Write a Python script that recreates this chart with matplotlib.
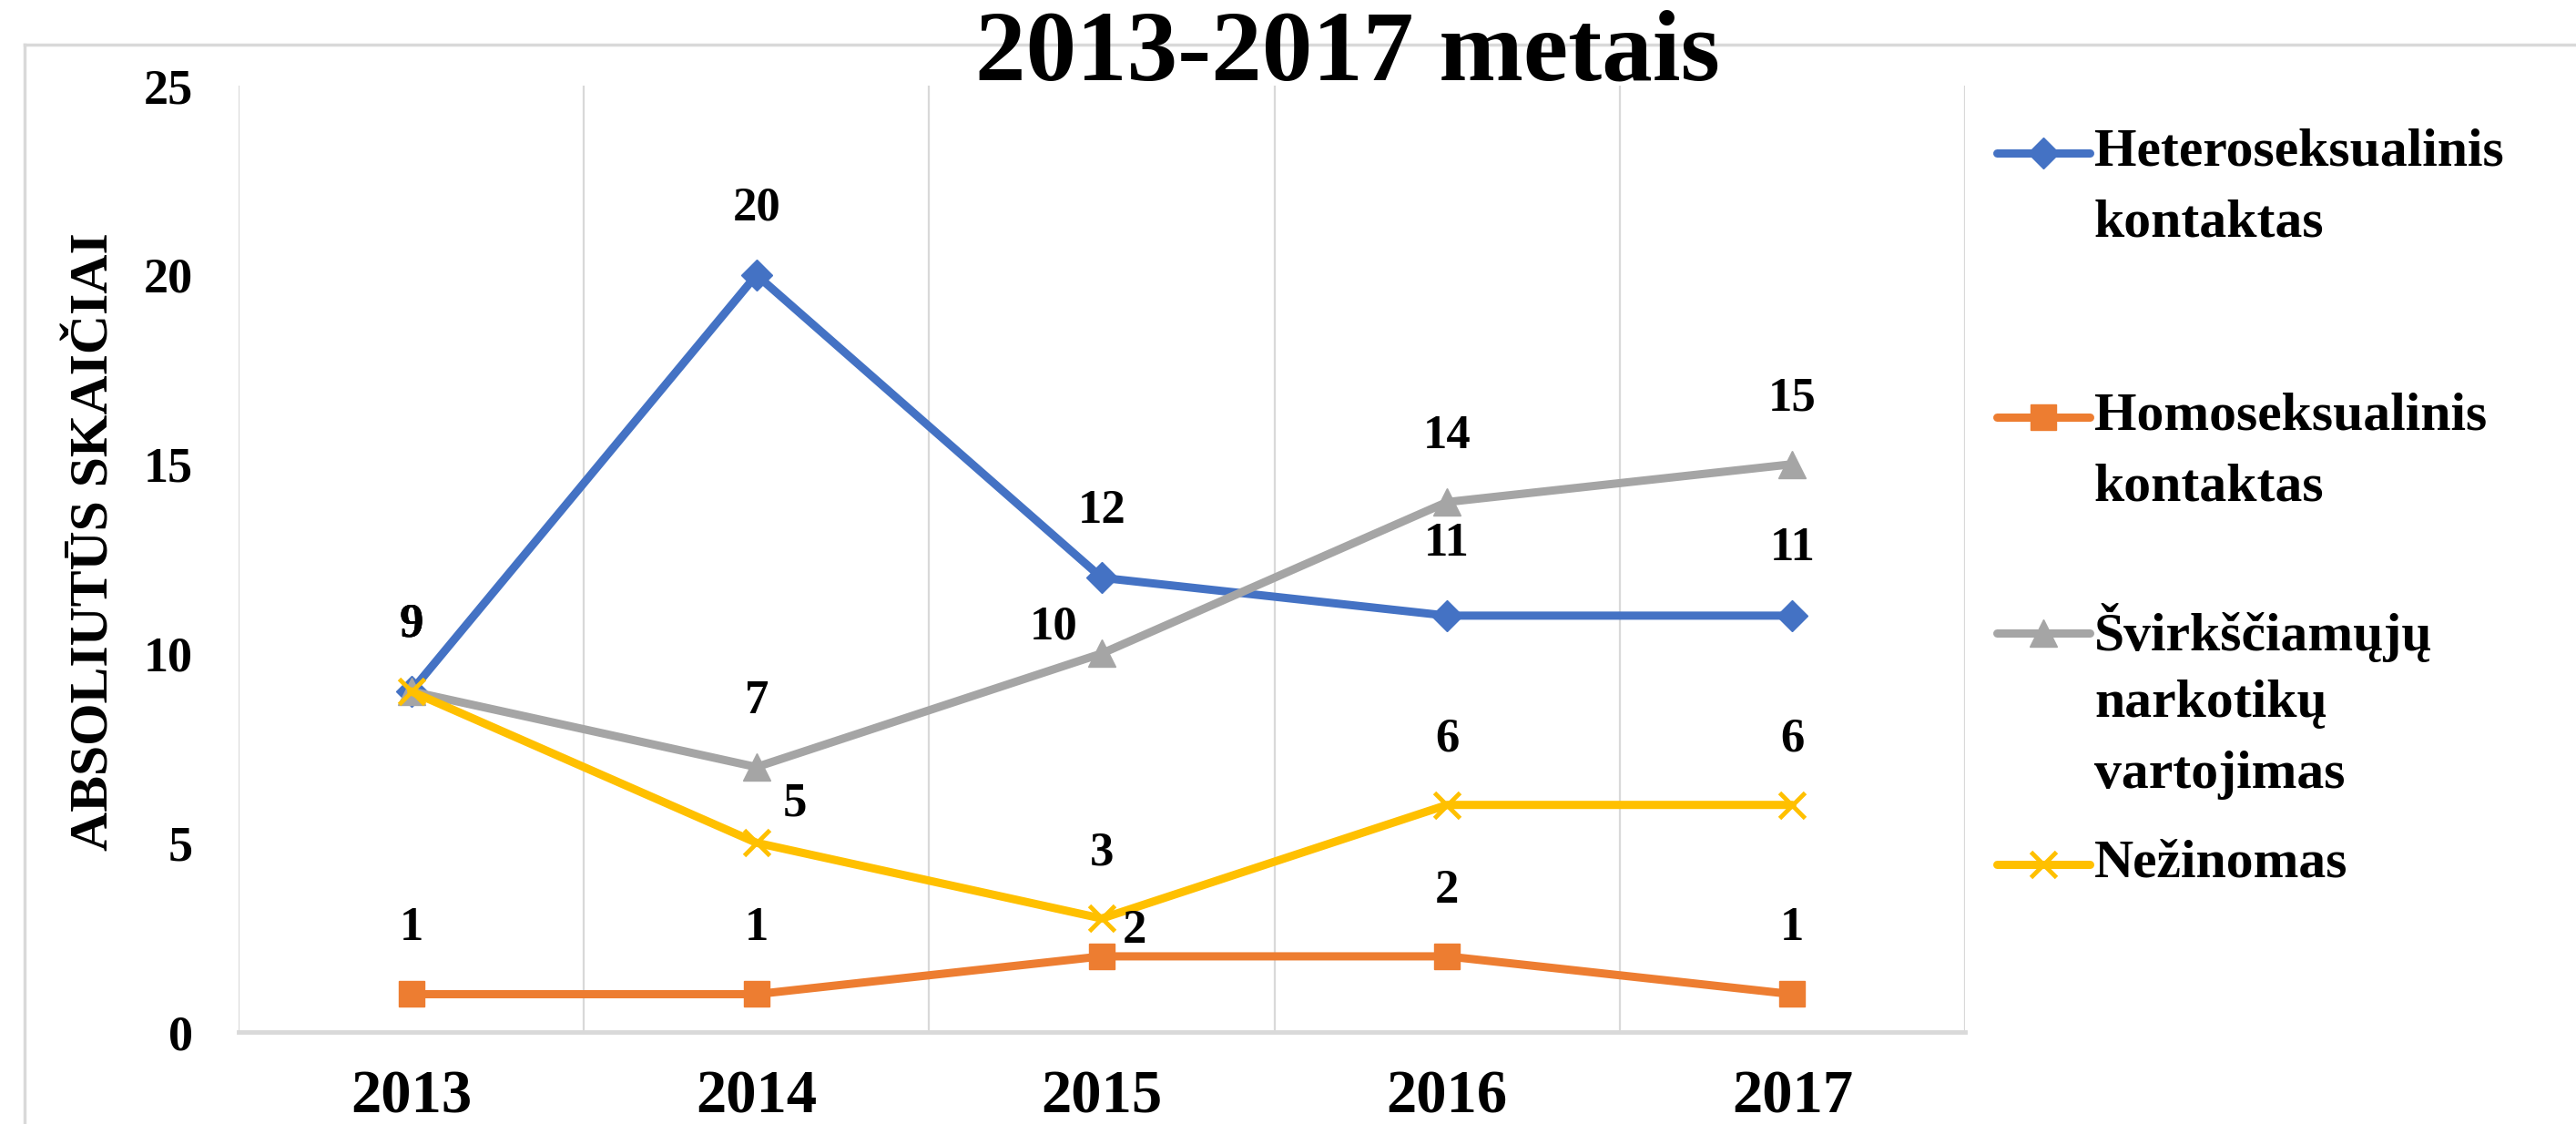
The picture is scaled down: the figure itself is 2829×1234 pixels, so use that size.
import matplotlib
matplotlib.use("Agg")
import matplotlib.pyplot as plt
from matplotlib.lines import Line2D
import numpy as np

plt.rcParams['font.family'] = ['Liberation Serif', 'DejaVu Serif']
plt.rcParams['font.weight'] = 'bold'

# data
years = ['2013', '2014', '2015', '2016', '2017']
hetero = [9, 20, 12, 11, 11]
homo = [1, 1, 2, 2, 1]
svirksc = [9, 7, 10, 14, 15]
nezinomas = [9, 5, 3, 6, 6]

series_names = ['Heteroseksualinis\nkontaktas',
                'Homoseksualinis\nkontaktas',
                'Švirkščiamųjų\nnarkotikų\nvartojimas',
                'Nežinomas']
title = '2013-2017 metais'
ylabel = 'ABSOLIUTŪS SKAIČIAI'

colors = ['#4472C4', '#ED7D31', '#A5A5A5', '#FFC000']
markers = ['D', 's', '^', 'x']
msizes = [17, 20, 21, 20]
lw = 6.5

# label offsets in points (dx, dy)
offsets = [
    [(0, 53), (0, 53), (0, 53), (0, 57), (0, 53)],
    [(0, 52), (0, 52), (26, 20), (0, 52), (0, 52)],
    [(0, 53), (0, 52), (-38, 21), (0, 52), (0, 52)],
    [(0, 53), (30, 31), (0, 52), (0, 52), (0, 52)],
]

fig = plt.figure(figsize=(28.29, 12.34), dpi=100)
ax = fig.add_axes([0.0926, 0.0818, 0.6702, 0.842])

x = np.arange(len(years))
all_series = [hetero, homo, svirksc, nezinomas]
for i, vals in enumerate(all_series):
    ax.plot(x, vals, color=colors[i], lw=lw, marker=markers[i],
            markersize=msizes[i], markeredgewidth=3.5 if markers[i] == 'x' else 1,
            markeredgecolor=colors[i], zorder=3 + i, solid_capstyle='round')
    for j, v in enumerate(vals):
        dx, dy = offsets[i][j]
        ax.annotate(str(v), (x[j], v), xytext=(dx, dy), textcoords='offset points',
                    ha='center', va='center', fontsize=38, fontweight='bold',
                    zorder=10)

ax.set_xlim(-0.5, len(years) - 0.5)
ax.set_ylim(0, 25)
ax.set_yticks([0, 5, 10, 15, 20, 25])
ax.set_xticks(x)
ax.set_xticklabels(years, fontsize=48, fontweight='bold')
ax.tick_params(axis='y', labelsize=39, length=0, pad=36)
ax.tick_params(axis='x', length=0, pad=30)
for lab in ax.get_yticklabels():
    lab.set_fontweight('bold')

# vertical grid lines between categories
for gx in np.arange(-0.5, len(years), 1.0):
    ax.axvline(gx, color='#D9D9D9', lw=1.6, zorder=1)
for s in ['top', 'right', 'left']:
    ax.spines[s].set_visible(False)
ax.spines['bottom'].set_color('#D9D9D9')
ax.spines['bottom'].set_linewidth(3.5)

fig.text(0.037, 0.518, ylabel, rotation=90, ha='center', va='center',
         fontsize=43, fontweight='bold')
fig.text(0.523, 0.951, title, ha='center', va='center', fontsize=80,
         fontweight='bold')

# outer chart border (left and top visible)
fig.add_artist(Line2D([0.0095, 0.0095], [0, 0.960], color='#D9D9D9', lw=2.5))
fig.add_artist(Line2D([0.0095, 1.0], [0.960, 0.960], color='#D9D9D9', lw=2.5))

# legend, drawn by hand so the marker sits at the first text line
rows = [0.864, 0.629, 0.437, 0.231]
line_step = 78 / 1234
for i, name in enumerate(series_names):
    y0 = rows[i]
    fig.add_artist(Line2D([2193 / 2829, 2295 / 2829], [y0, y0], color=colors[i], lw=lw,
                          solid_capstyle='round'))
    fig.add_artist(Line2D([2244 / 2829], [y0], color=colors[i], marker=markers[i],
                          markersize=msizes[i], markeredgecolor=colors[i],
                          markeredgewidth=3.5 if markers[i] == 'x' else 1))
    for k, part in enumerate(name.split('\n')):
        fig.text(2300 / 2829, y0 - k * line_step, part, ha='left', va='center',
                 fontsize=43, fontweight='bold')

fig.savefig('out.png', dpi=100)
